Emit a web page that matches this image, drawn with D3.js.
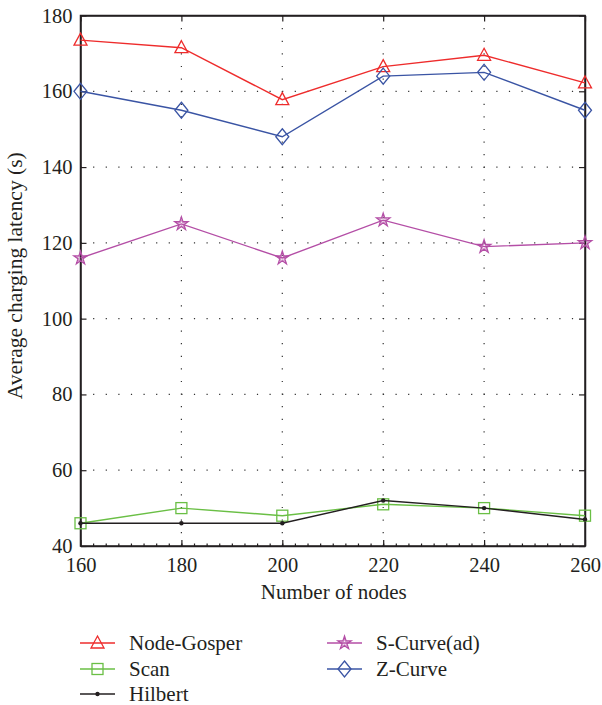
<!DOCTYPE html>
<html>
<head>
<meta charset="utf-8">
<script src="https://cdn.jsdelivr.net/npm/d3@7"></script>
<style>
  body { margin: 0; background: #fff; }
  text { font-family: "Liberation Serif", "DejaVu Serif", serif; fill: #231f20; }
</style>
</head>
<body>
<div class="chart"></div>
<script>
var nodes = [160, 180, 200, 220, 240, 260];
var yTicks = [40, 60, 80, 100, 120, 140, 160, 180];

var nodeGosper = [173.5, 171.5, 157.8, 166.5, 169.5, 162.2];
var scan = [46, 50, 48, 51, 50, 48];
var hilbert = [46, 46, 46, 52, 50, 47];
var sCurve = [116, 125, 116, 126, 119, 120];
var zCurve = [160, 155, 148, 164, 165, 155];

var series = [
  {name: "Node-Gosper", values: nodeGosper, color: "#ee2c2c", mark: "triangle"},
  {name: "Scan", values: scan, color: "#6abf45", mark: "square"},
  {name: "Hilbert", values: hilbert, color: "#231f20", mark: "dot"},
  {name: "S-Curve(ad)", values: sCurve, color: "#b44ea6", mark: "star"},
  {name: "Z-Curve", values: zCurve, color: "#3a54a4", mark: "diamond"}
];

var svg = d3.select(".chart").append("svg")
  .attr("width", 602)
  .attr("height", 705);

var pLeft = 80.5, pRight = 585, pTop = 15.5, pBottom = 546;

var x = d3.scaleLinear().domain([160, 260]).range([pLeft, pRight]);
var y = d3.scaleLinear().domain([40, 180]).range([pBottom, pTop]);

// dotted grid
svg.append("g").selectAll("line").data(nodes.slice(1, -1))
  .enter().append("line")
  .attr("x1", d => x(d)).attr("x2", d => x(d))
  .attr("y1", pTop).attr("y2", pBottom)
  .attr("stroke", "#333").attr("stroke-width", 1.2)
  .attr("stroke-dasharray", "1.2,11.4");
svg.append("g").selectAll("line").data(yTicks.slice(1, -1))
  .enter().append("line")
  .attr("x1", pLeft).attr("x2", pRight)
  .attr("y1", d => y(d)).attr("y2", d => y(d))
  .attr("stroke", "#333").attr("stroke-width", 1.2)
  .attr("stroke-dasharray", "1.2,11.4");

// axes, ticks inward
var xAxis = svg.append("g").attr("transform", "translate(0," + pBottom + ")")
  .call(d3.axisBottom(x).tickValues(nodes).tickSizeInner(-6).tickSizeOuter(0).tickPadding(11));
svg.append("g").attr("transform", "translate(0," + pTop + ")")
  .call(d3.axisTop(x).tickValues(nodes).tickSizeInner(-6).tickSizeOuter(0).tickFormat(""));
svg.append("g").attr("transform", "translate(" + pLeft + ",0)")
  .call(d3.axisLeft(y).tickValues(yTicks).tickSizeInner(-6).tickSizeOuter(0).tickPadding(8));
svg.append("g").attr("transform", "translate(" + pRight + ",0)")
  .call(d3.axisRight(y).tickValues(yTicks).tickSizeInner(-6).tickSizeOuter(0).tickFormat(""));

// minor ticks on bottom axis
svg.append("g").attr("transform", "translate(0," + pBottom + ")")
  .call(d3.axisBottom(x).tickValues(d3.range(162.5, 260, 2.5)).tickSize(-2.5).tickFormat(""))
  .call(g => g.select(".domain").remove());

svg.selectAll(".domain").attr("stroke", "#231f20").attr("stroke-width", 1.5);
svg.selectAll(".tick line").attr("stroke", "#231f20").attr("stroke-width", 1.2);
svg.selectAll(".tick text").attr("font-size", 20.5)
  .attr("font-family", "Liberation Serif, serif").attr("fill", "#231f20");

svg.append("rect")
  .attr("x", pLeft).attr("y", pTop)
  .attr("width", pRight - pLeft).attr("height", pBottom - pTop)
  .attr("fill", "none").attr("stroke", "#231f20").attr("stroke-width", 1.5);

svg.append("text")
  .attr("x", (pLeft + pRight) / 2 + 1).attr("y", 599)
  .attr("text-anchor", "middle").attr("font-size", 21)
  .text("Number of nodes");
svg.append("text")
  .attr("transform", "translate(22," + ((pTop + pBottom) / 2 - 5) + ") rotate(-90)")
  .attr("text-anchor", "middle").attr("font-size", 21.5)
  .text("Average charging latency (s)");

function drawMark(g, type, color) {
  if (type === "triangle") {
    g.append("path").attr("d", "M0,-7 L6.5,5 L-6.5,5 Z")
      .attr("fill", "none").attr("stroke", color).attr("stroke-width", 1.3);
  } else if (type === "square") {
    g.append("rect").attr("x", -5.5).attr("y", -5.5).attr("width", 11).attr("height", 11)
      .attr("fill", "none").attr("stroke", color).attr("stroke-width", 1.3);
  } else if (type === "diamond") {
    g.append("path").attr("d", "M0,-8 L6.5,0 L0,8 L-6.5,0 Z")
      .attr("fill", "none").attr("stroke", color).attr("stroke-width", 1.3);
  } else if (type === "star") {
    g.append("path").attr("d", d3.symbol().type(d3.symbolStar).size(55)())
      .attr("fill", "none").attr("stroke", color).attr("stroke-width", 1.3);
    g.append("path").attr("d", d3.symbol().type(d3.symbolStar).size(18)())
      .attr("fill", "none").attr("stroke", color).attr("stroke-width", 0.7)
      .attr("stroke-opacity", 0.7);
  } else {
    g.append("circle").attr("r", 2.2).attr("fill", color);
  }
}

var line = d3.line().x((d, i) => x(nodes[i])).y(d => y(d));

series.forEach(function(s) {
  svg.append("path")
    .attr("d", line(s.values))
    .attr("fill", "none").attr("stroke", s.color).attr("stroke-width", 1.4);
  s.values.forEach(function(v, i) {
    var g = svg.append("g").attr("transform", "translate(" + x(nodes[i]) + "," + y(v) + ")");
    drawMark(g, s.mark, s.color);
  });
});

// legend
var legendPos = [
  [80, 643], [80, 669], [80, 694], [327, 643], [327, 669]
];
series.forEach(function(s, i) {
  var p = legendPos[i];
  var g = svg.append("g").attr("transform", "translate(" + p[0] + "," + p[1] + ")");
  g.append("line").attr("x1", 0).attr("x2", 35)
    .attr("stroke", s.color).attr("stroke-width", 1.4);
  var m = g.append("g").attr("transform", "translate(17.5,0)");
  drawMark(m, s.mark, s.color);
  g.append("text").attr("x", 49).attr("y", 0).attr("dy", "0.34em")
    .attr("font-size", 21).text(s.name);
});
</script>
</body>
</html>
